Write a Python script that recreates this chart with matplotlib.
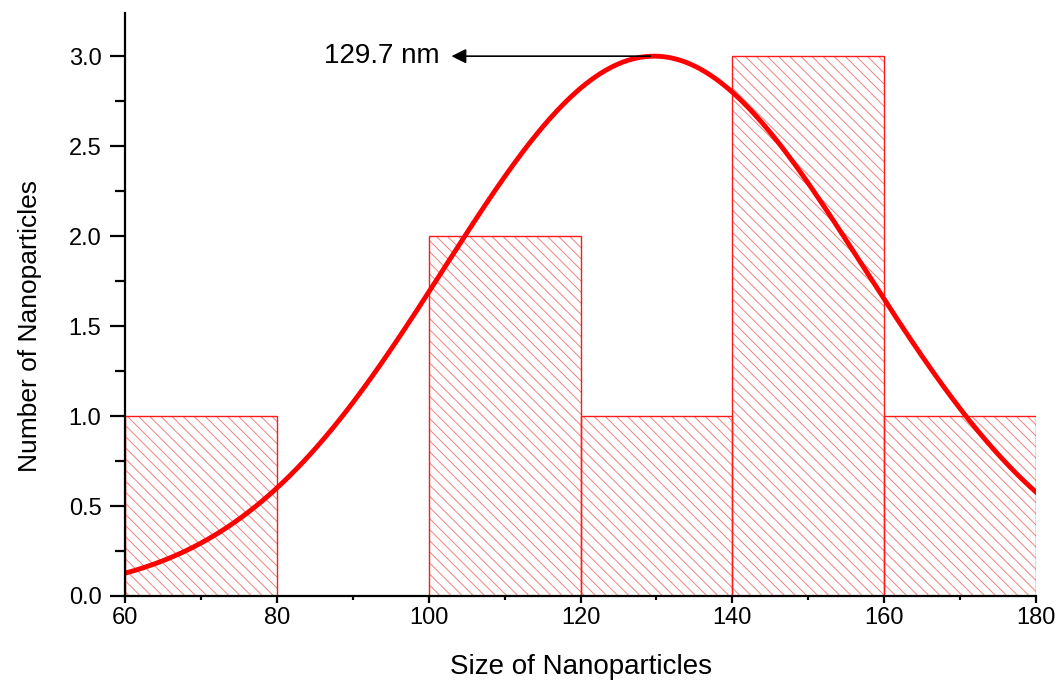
import matplotlib.pyplot as plt
import numpy as np

plt.rcParams['font.family'] = ['Liberation Sans', 'DejaVu Sans']
plt.rcParams['hatch.linewidth'] = 0.7

# histogram bins (nm) and counts
bin_edges = [60, 80, 100, 120, 140, 160, 180]
counts = [1, 0, 2, 1, 3, 1]

# gaussian fit parameters
fit_center = 129.7
fit_sigma = 27.7
fit_amp = 3.0

fig = plt.figure(figsize=(10.64, 6.83), dpi=100)
ax = fig.add_axes([0.1175, 0.1274, 0.8562, 0.8536])

lefts = bin_edges[:-1]
widths = np.diff(bin_edges)
# hatch in light red, outline in solid red
ax.bar(lefts, counts, width=widths, align='edge', color='none',
       edgecolor='#f08080', linewidth=0, hatch='\\\\\\', zorder=1)
ax.bar(lefts, counts, width=widths, align='edge', color='none',
       edgecolor='#ff1a1a', linewidth=1.0, zorder=2)

x = np.linspace(60, 180, 400)
y = fit_amp * np.exp(-(x - fit_center) ** 2 / (2 * fit_sigma ** 2))
ax.plot(x, y, color='#ff0000', linewidth=3.5, zorder=3)

ax.annotate('', xy=(103.0, 3.0), xytext=(fit_center - 0.5, 3.0),
            arrowprops=dict(arrowstyle='-|>', color='black', lw=1.2,
                            mutation_scale=22, shrinkA=0, shrinkB=0))
ax.text(101.5, 3.0, '129.7 nm', ha='right', va='center', fontsize=20)

ax.set_xlim(60, 180)
ax.set_ylim(0, 3.24)
ax.set_xticks([60, 80, 100, 120, 140, 160, 180])
ax.set_xticks(np.arange(70, 180, 20), minor=True)
ax.set_yticks([0, 0.5, 1.0, 1.5, 2.0, 2.5, 3.0])
ax.set_yticks(np.arange(0.25, 3.2, 0.5), minor=True)
ax.yaxis.set_major_formatter(plt.FormatStrFormatter('%.1f'))

for side in ['top', 'right']:
    ax.spines[side].set_visible(False)
for side in ['left', 'bottom']:
    ax.spines[side].set_linewidth(1.6)
    ax.spines[side].set_zorder(4)

ax.tick_params(axis='y', which='major', direction='out', length=11, width=1.6, labelsize=17, pad=6)
ax.tick_params(axis='y', which='minor', direction='out', length=7, width=1.6)
ax.tick_params(axis='x', which='major', direction='out', length=5, width=1.6, labelsize=17, pad=3)
ax.tick_params(axis='x', which='minor', direction='out', length=3, width=1.6)

ax.set_xlabel('Size of Nanoparticles', fontsize=20, labelpad=18)
ax.set_ylabel('Number of Nanoparticles', fontsize=19,
              family=['Liberation Sans Narrow', 'Liberation Sans', 'DejaVu Sans'])
ax.yaxis.set_label_coords(-0.091, 0.463)

fig.savefig('out.png', dpi=100)
